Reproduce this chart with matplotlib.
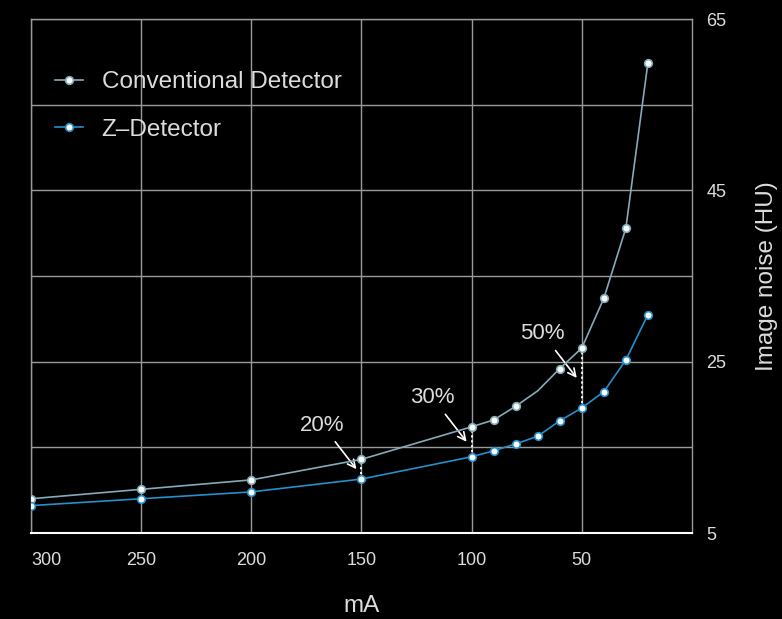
import matplotlib.pyplot as plt
from matplotlib.ticker import FixedLocator

# tube current (mA) and image noise (HU)
ma = [300, 250, 200, 150, 100, 90, 80, 70, 60, 50, 40, 30, 20]
conventional = [9.0, 10.1, 11.2, 13.6, 17.4, 18.2, 19.8, 21.6, 24.2, 26.6, 32.4, 40.6, 59.9]
z_detector = [8.2, 9.0, 9.8, 11.3, 13.9, 14.6, 15.4, 16.3, 18.1, 19.6, 21.5, 25.2, 30.5]
conv_marked = [i for i in range(len(ma)) if ma[i] != 70]

x_ticks = [300, 250, 200, 150, 100, 50]
y_ticks = [5, 25, 45, 65]
y_minor = [15, 35, 55]

reductions = ['20%', '30%', '50%']
reduction_ma = [150, 100, 50]

CONV_COLOR = '#84abb9'
Z_COLOR = '#2490cc'
TEXT_COLOR = '#dcdcdc'
GRID_COLOR = '#9a9a9a'

plt.rcParams['font.family'] = ['Liberation Sans', 'DejaVu Sans']

fig = plt.figure(figsize=(7.82, 6.19), dpi=100, facecolor='black')
ax = fig.add_axes([0.0396, 0.1389, 0.8453, 0.8304], facecolor='black')

ax.plot(ma, conventional, color=CONV_COLOR, lw=1.2, marker='o', markevery=conv_marked,
        ms=5.5, mfc='white', mec=CONV_COLOR, mew=1.2, label='Conventional Detector', zorder=4)
ax.plot(ma, z_detector, color=Z_COLOR, lw=1.2, marker='o',
        ms=5.5, mfc='white', mec=Z_COLOR, mew=1.2, label='Z\u2013Detector', zorder=4)

# dotted connectors and arrows for the noise reduction
for label, m in zip(reductions, reduction_ma):
    i = ma.index(m)
    ax.plot([m, m], [z_detector[i], conventional[i]], color='white', lw=1.3,
            ls=(0, (1.2, 1.5)), zorder=3)
    tip_y = (z_detector[i] + conventional[i]) / 2
    ax.annotate(label, xy=(m + 2.3, tip_y), xytext=(-34, 44), textcoords='offset pixels',
                color=TEXT_COLOR, fontsize=16, ha='center', va='center',
                arrowprops=dict(arrowstyle='->', color='white', lw=1.2,
                                shrinkA=3, shrinkB=0, mutation_scale=14))

ax.set_xlim(300, 0)
ax.set_ylim(5, 65)

ax.xaxis.set_major_locator(FixedLocator(x_ticks))
ax.yaxis.set_major_locator(FixedLocator(y_ticks))
ax.yaxis.set_minor_locator(FixedLocator(y_minor))
ax.yaxis.tick_right()
ax.yaxis.set_label_position('right')

ax.grid(True, which='both', color=GRID_COLOR, lw=1.0)
ax.tick_params(which='both', length=0)
ax.tick_params(axis='x', colors=TEXT_COLOR, labelsize=13, pad=13.4)
ax.tick_params(axis='y', colors=TEXT_COLOR, labelsize=13, pad=10.5)
fig.canvas.draw()
ax.get_xticklabels()[0].set_ha('left')

for side in ['left', 'right', 'top']:
    ax.spines[side].set_color(GRID_COLOR)
    ax.spines[side].set_linewidth(1.0)
ax.spines['bottom'].set_color('white')
ax.spines['bottom'].set_linewidth(1.5)

ax.set_xlabel('mA', color=TEXT_COLOR, fontsize=17.5, labelpad=19)
ax.set_ylabel('Image noise (HU)', color=TEXT_COLOR, fontsize=17.5, labelpad=21)

leg = ax.legend(loc='upper left', bbox_to_anchor=(0.036, 0.898), frameon=False,
                fontsize=17.5, handlelength=1.15, labelspacing=1.05, handletextpad=0.78,
                borderaxespad=0, borderpad=0)
for t in leg.get_texts():
    t.set_color(TEXT_COLOR)

fig.savefig('out.png', dpi=100, facecolor='black')
